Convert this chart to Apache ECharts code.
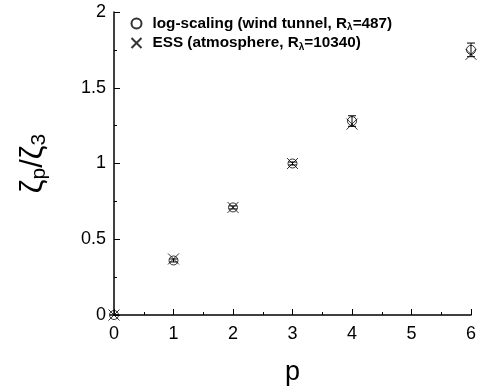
<!DOCTYPE html>
<html><head><meta charset="utf-8">
<script src="https://cdn.jsdelivr.net/npm/echarts@6/dist/echarts.min.js"></script>
<style>html,body{margin:0;padding:0;background:#fff}#c{width:480px;height:391px}</style>
</head><body><div id="c"></div>
<script>
const pValues = [0, 1, 2, 3, 4, 6];
const logScaling = [0, 0.36, 0.71, 1.0, 1.28, 1.75];
const logScalingErr = [0, 0.01, 0.01, 0.01, 0.035, 0.045];
const essAtmos = [0, 0.37, 0.71, 1.0, 1.26, 1.72];
const xTicks = [0, 1, 2, 3, 4, 5, 6];
const yTicks = [0, 0.5, 1, 1.5, 2];

const chart = echarts.init(document.getElementById('c'));
const xPath = 'path://M0,0L10,10M10,0L0,10';
const font = 'Arial, "Liberation Sans", sans-serif';
chart.setOption({
  animation: false,
  grid: {left: 114, top: 12, right: 9, bottom: 75},
  legend: {
    left: 129, top: 16, orient: 'vertical', itemGap: 3, itemWidth: 22, itemHeight: 10, padding: 0,
    textStyle: {fontFamily: font, fontWeight: 'bold', fontSize: 15.3, color: '#000',
      rich: {s: {fontFamily: font, fontWeight: 'bold', fontSize: 10, verticalAlign: 'bottom', padding: [8,0,0,0]}}},
    formatter: function(n){
      if (n === 'log') return 'log-scaling (wind tunnel, R{s|λ}=487)';
      return 'ESS (atmosphere, R{s|λ}=10340)';
    },
    data: [{name: 'log', icon: 'circle'}, {name: 'ess', icon: xPath}]
  },
  xAxis: {
    type: 'value', min: 0, max: 6, interval: 1,
    name: 'p', nameLocation: 'middle', nameGap: 44,
    nameTextStyle: {fontFamily: font, fontSize: 27, color: '#000'},
    axisLine: {lineStyle: {color: '#000', width: 1.5}},
    axisTick: {inside: true, length: 6, lineStyle: {color: '#000'}},
    minorTick: {show: true, splitNumber: 2, length: 3, lineStyle: {color: '#000'}},
    axisLabel: {fontFamily: font, fontSize: 18, color: '#000', margin: 10},
    splitLine: {show: false}
  },
  yAxis: {
    type: 'value', min: 0, max: 2, interval: 0.5,
    name: '{z|ζ}{s|p}{z|/ζ}{s|3}', nameLocation: 'middle', nameGap: 64,
    nameTextStyle: {fontFamily: font, fontSize: 30, color: '#000',
      rich: {z: {fontFamily: font, fontSize: 31, color: '#000'}, s: {fontFamily: font, fontSize: 21, color: '#000', verticalAlign: 'bottom', padding: [12,0,0,0]}}},
    axisLine: {show: true, lineStyle: {color: '#000', width: 1.5}},
    axisTick: {inside: true, length: 6, lineStyle: {color: '#000'}},
    minorTick: {show: true, splitNumber: 2, length: 3, lineStyle: {color: '#000'}},
    axisLabel: {fontFamily: font, fontSize: 18, color: '#000', margin: 8},
    splitLine: {show: false}
  },
  series: [
    {
      name: 'log', type: 'scatter', symbol: 'circle', symbolSize: 9, clip: false,
      itemStyle: {color: 'rgba(0,0,0,0)', borderColor: '#000', borderWidth: 1},
      data: pValues.map((p, i) => [p, logScaling[i]]), z: 3
    },
    {
      name: 'ess', type: 'scatter', symbol: xPath, symbolSize: 11, clip: false,
      itemStyle: {color: 'none', borderColor: '#000', borderWidth: 1},
      data: pValues.map((p, i) => [p, essAtmos[i]]), z: 4
    },
    {
      type: 'custom', silent: true, clip: false, z: 2,
      data: pValues.map((p, i) => [p, logScaling[i] - logScalingErr[i], logScaling[i] + logScalingErr[i]]),
      renderItem: function(params, api){
        const lo = api.coord([api.value(0), api.value(1)]);
        const hi = api.coord([api.value(0), api.value(2)]);
        const w = 4;
        return {type: 'group', children: [
          {type: 'line', shape: {x1: hi[0], y1: hi[1], x2: lo[0], y2: lo[1]}, style: {stroke: '#000', lineWidth: 1}},
          {type: 'line', shape: {x1: hi[0]-w, y1: hi[1], x2: hi[0]+w, y2: hi[1]}, style: {stroke: '#000', lineWidth: 1}},
          {type: 'line', shape: {x1: lo[0]-w, y1: lo[1], x2: lo[0]+w, y2: lo[1]}, style: {stroke: '#000', lineWidth: 1}}
        ]};
      }
    }
  ]
});
</script></body></html>
